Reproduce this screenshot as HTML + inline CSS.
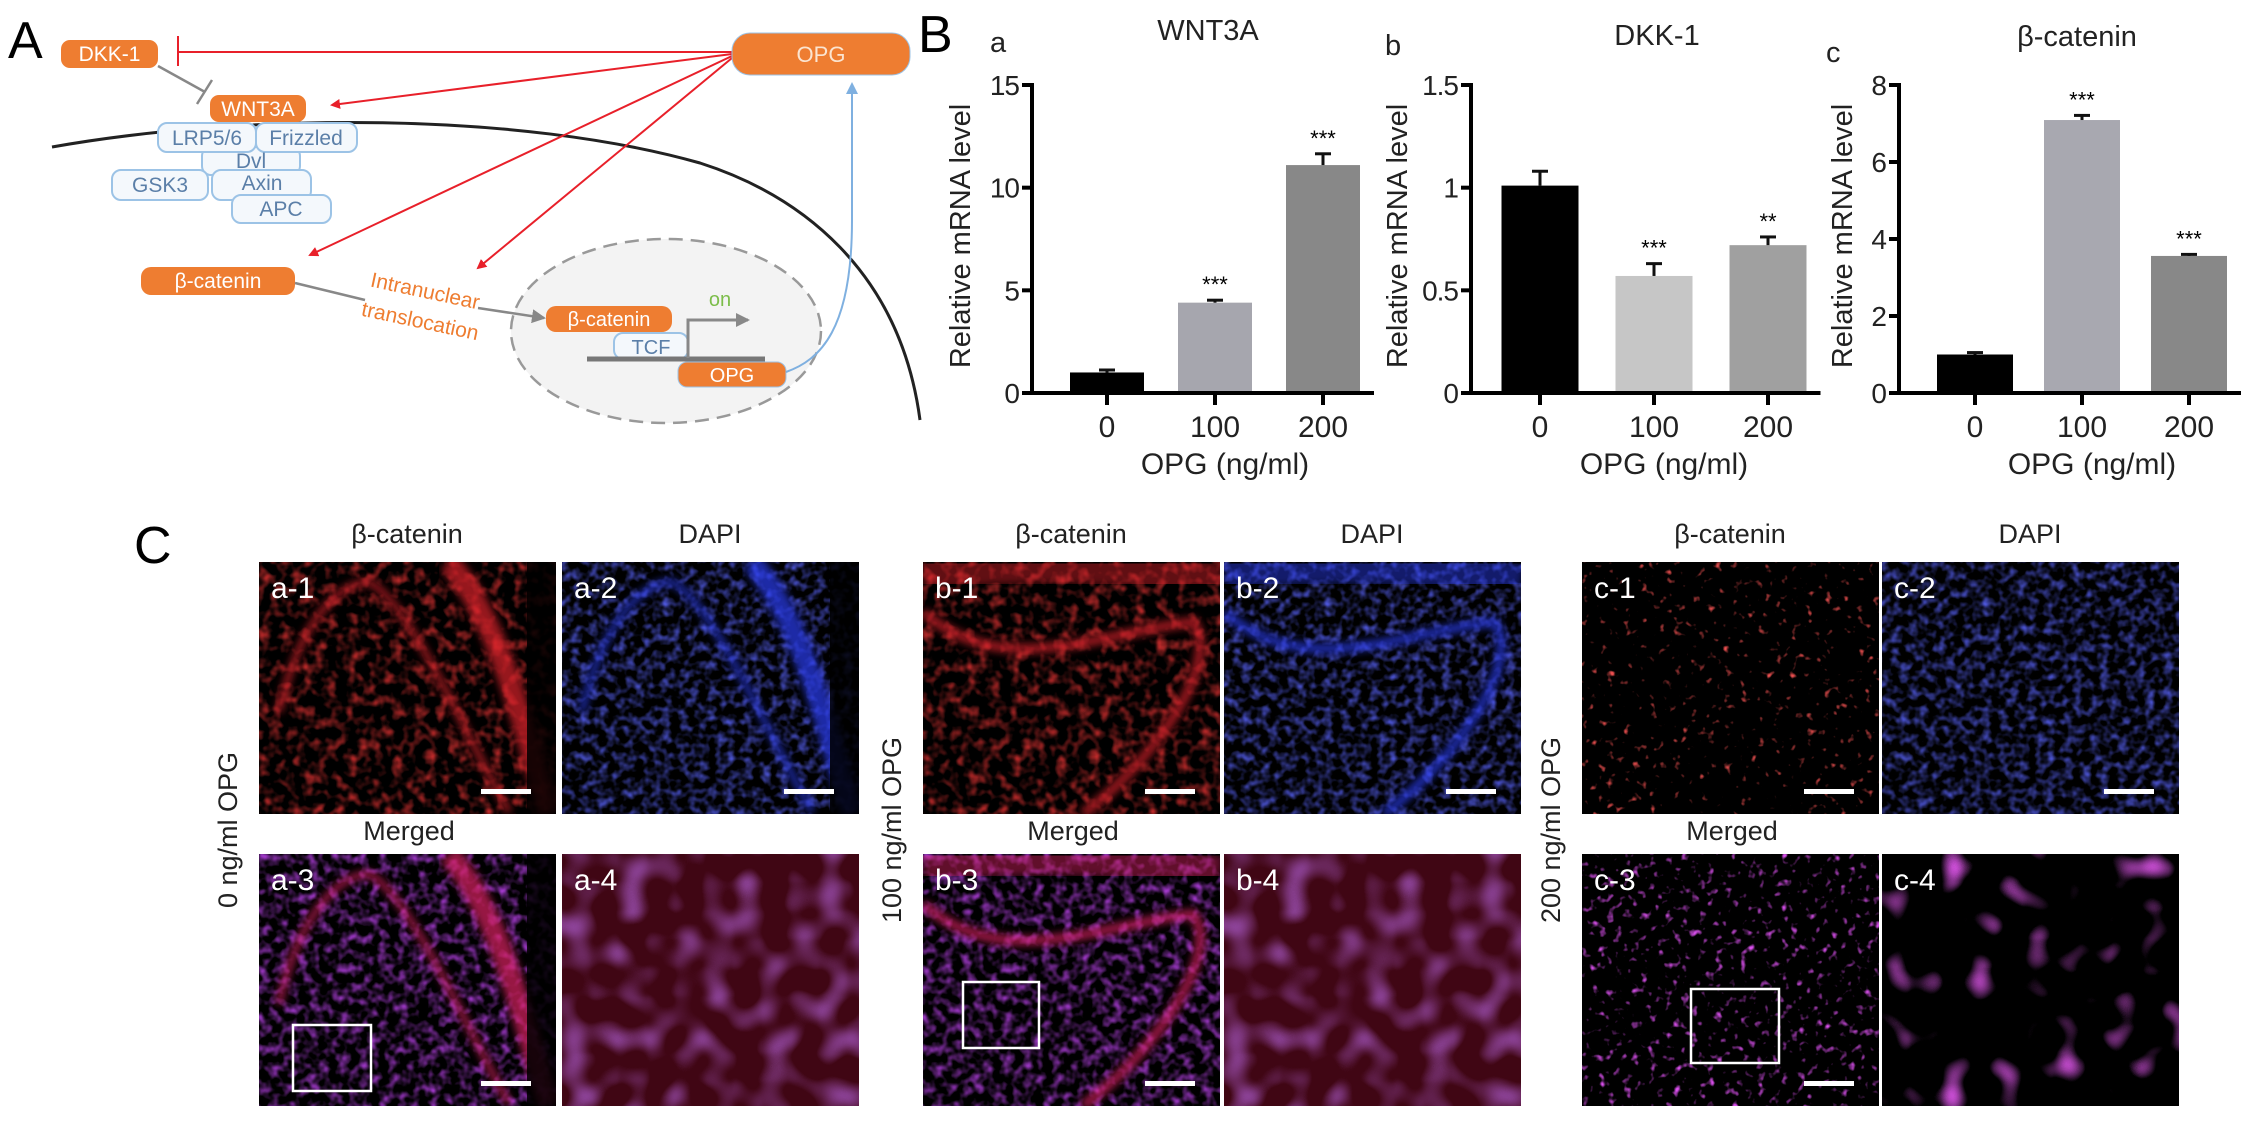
<!DOCTYPE html>
<html><head><meta charset="utf-8">
<style>
html,body{margin:0;padding:0;background:#fff;}
svg{display:block;font-family:"Liberation Sans",Arial,sans-serif;}
</style></head>
<body>
<svg id="fig" width="2268" height="1125" viewBox="0 0 2268 1125" xmlns="http://www.w3.org/2000/svg">
<defs>
  <marker id="redHead" markerWidth="10" markerHeight="10" refX="8" refY="5" orient="auto" markerUnits="userSpaceOnUse"><path d="M0,0 L10,5 L0,10 z" fill="#e8202a"/></marker>
  <marker id="greyHead" markerWidth="14" markerHeight="14" refX="12" refY="7" orient="auto" markerUnits="userSpaceOnUse"><path d="M0,0 L14,7 L0,14 z" fill="#888"/></marker>
  <marker id="blueHead" markerWidth="12" markerHeight="12" refX="10" refY="6" orient="auto" markerUnits="userSpaceOnUse"><path d="M0,0 L12,6 L0,12 z" fill="#7fb0e0"/></marker>
  <filter id="nRed1" x="0" y="0" width="100%" height="100%"><feTurbulence type="fractalNoise" baseFrequency="0.09" numOctaves="2" seed="3"/><feColorMatrix type="matrix" values="0 0 0 0 0.7  0 0 0 0 0.03  0 0 0 0 0.03  2.0 0 0 0 -0.9"/></filter>
  <filter id="nRedSparse" x="0" y="0" width="100%" height="100%"><feTurbulence type="fractalNoise" baseFrequency="0.12" numOctaves="2" seed="7"/><feColorMatrix type="matrix" values="0 0 0 0 0.85  0 0 0 0 0.08  0 0 0 0 0.08  4.5 0 0 0 -2.9"/></filter>
  <filter id="nBlue" x="0" y="0" width="100%" height="100%"><feTurbulence type="fractalNoise" baseFrequency="0.11" numOctaves="2" seed="11"/><feColorMatrix type="matrix" values="0 0 0 0 0.08  0 0 0 0 0.1  0 0 0 0 0.75  2.0 0 0 0 -0.85"/></filter>
  <filter id="nPurple" x="0" y="0" width="100%" height="100%"><feTurbulence type="fractalNoise" baseFrequency="0.1" numOctaves="2" seed="5"/><feColorMatrix type="matrix" values="0 0 0 0 0.45  0 0 0 0 0.05  0 0 0 0 0.75  2.0 0 0 0 -0.85"/></filter>
  <filter id="nMagSparse" x="0" y="0" width="100%" height="100%"><feTurbulence type="fractalNoise" baseFrequency="0.12" numOctaves="2" seed="9"/><feColorMatrix type="matrix" values="0 0 0 0 0.7  0 0 0 0 0.08  0 0 0 0 0.85  4.0 0 0 0 -2.4"/></filter>
  <filter id="nBlobPurple" x="0" y="0" width="100%" height="100%"><feTurbulence type="fractalNoise" baseFrequency="0.035" numOctaves="1" seed="13"/><feColorMatrix type="matrix" values="0 0 0 0 0.45  0 0 0 0 0.12  0 0 0 0 0.7  2.2 0 0 0 -1.0"/></filter>
  <filter id="nBlobMag" x="0" y="0" width="100%" height="100%"><feTurbulence type="fractalNoise" baseFrequency="0.035" numOctaves="1" seed="17"/><feColorMatrix type="matrix" values="0 0 0 0 0.8  0 0 0 0 0.1  0 0 0 0 0.9  3.5 0 0 0 -2.0"/></filter>
  <filter id="blur4"><feGaussianBlur stdDeviation="4"/></filter>
</defs>

<!-- ================= PANEL A ================= -->
<g>
  <text x="8" y="58" font-size="52">A</text>
  <path d="M52,147 C250,112 520,112 700,163 C800,195 900,270 920,420" fill="none" stroke="#222" stroke-width="3"/>
  <ellipse cx="666" cy="331" rx="155" ry="92" fill="#f3f3f3" stroke="#999" stroke-width="2.5" stroke-dasharray="14 8"/>
  <line x1="178" y1="52" x2="732" y2="52" stroke="#e8202a" stroke-width="2"/>
  <line x1="178" y1="36" x2="178" y2="66" stroke="#e8202a" stroke-width="2"/>
  <line x1="732" y1="54" x2="332" y2="105" stroke="#e8202a" stroke-width="2" marker-end="url(#redHead)"/>
  <line x1="732" y1="56" x2="310" y2="255" stroke="#e8202a" stroke-width="2" marker-end="url(#redHead)"/>
  <line x1="732" y1="58" x2="478" y2="268" stroke="#e8202a" stroke-width="2" marker-end="url(#redHead)"/>
  <line x1="158" y1="66" x2="205" y2="92" stroke="#888" stroke-width="2.5"/>
  <line x1="197" y1="104" x2="212" y2="80" stroke="#888" stroke-width="2.5"/>
  <g><rect x="61" y="40" width="97" height="28" rx="9" fill="#ee7d31"/><text x="109.5" y="61" font-size="21" fill="#fff" text-anchor="middle">DKK-1</text></g>
  <g><rect x="210" y="95" width="96" height="27" rx="9" fill="#ee7d31"/><text x="258" y="116" font-size="21" fill="#fff" text-anchor="middle">WNT3A</text></g>
  <g><rect x="732" y="33" width="178" height="42" rx="18" fill="#ee7d31" stroke="#9cc3e6" stroke-width="1"/><text x="821" y="62" font-size="22" fill="#fbe4d0" text-anchor="middle">OPG</text></g>
  <g fill="#f4f8fc" stroke="#9cc3e6" stroke-width="2" font-size="20">
    <rect x="202" y="147" width="98" height="28" rx="9"/>
    <rect x="112" y="170" width="96" height="30" rx="9"/>
    <rect x="212" y="170" width="99" height="30" rx="9"/>
    <rect x="232" y="195" width="99" height="28" rx="9"/>
    <rect x="158" y="123" width="98" height="29" rx="9"/>
    <rect x="256" y="123" width="101" height="29" rx="9"/>
  </g>
  <g fill="#5b7fa8" font-size="21" text-anchor="middle">
    <text x="207" y="145">LRP5/6</text>
    <text x="306" y="145">Frizzled</text>
    <text x="251" y="168">Dvl</text>
    <text x="160" y="192">GSK3</text>
    <text x="262" y="190">Axin</text>
    <text x="281" y="216">APC</text>
  </g>
  <g><rect x="141" y="267" width="154" height="28" rx="10" fill="#ee7d31"/><text x="218" y="288" font-size="21" fill="#fff" text-anchor="middle">β-catenin</text></g>
  <line x1="295" y1="283" x2="365" y2="300" stroke="#888" stroke-width="2.5"/>
  <line x1="478" y1="308" x2="544" y2="318" stroke="#888" stroke-width="2.5" marker-end="url(#greyHead)"/>
  <text x="425" y="298" font-size="21" fill="#ee7d31" text-anchor="middle" transform="rotate(12 425 292)">Intranuclear</text>
  <text x="420" y="328" font-size="21" fill="#ee7d31" text-anchor="middle" transform="rotate(12 420 322)">translocation</text>
  <rect x="614" y="333" width="74" height="26" rx="9" fill="#f4f8fc" stroke="#9cc3e6" stroke-width="2"/>
  <text x="651" y="354" font-size="20" fill="#5b7fa8" text-anchor="middle">TCF</text>
  <g><rect x="546" y="306" width="126" height="26" rx="10" fill="#ee7d31"/><text x="609" y="326" font-size="20" fill="#fff" text-anchor="middle">β-catenin</text></g>
  <line x1="587" y1="359" x2="765" y2="359" stroke="#777" stroke-width="5"/>
  <path d="M688,358 L688,320 L748,320" fill="none" stroke="#888" stroke-width="3" marker-end="url(#greyHead)"/>
  <text x="720" y="306" font-size="20" fill="#7cbd4a" text-anchor="middle">on</text>
  <g><rect x="678" y="362" width="108" height="25" rx="9" fill="#ee7d31" stroke="#9cc3e6" stroke-width="1"/><text x="732" y="382" font-size="20" fill="#fff" text-anchor="middle">OPG</text></g>
  <path d="M786,372 C820,360 852,330 852,220 L852,84" fill="none" stroke="#7fb0e0" stroke-width="2" marker-end="url(#blueHead)"/>
</g>

<!-- ================= PANEL B ================= -->
<g id="panelB">
  <text x="918" y="52" font-size="52">B</text>
</g>

<!-- ================= PANEL C ================= -->
<g id="panelC">
  <text x="134" y="563" font-size="52">C</text>
</g>

<script>
// ---------- chart data ----------
const categories = ["0", "100", "200"];
const wntValues = [1.0, 4.4, 11.1];
const wntErrors = [0.12, 0.12, 0.55];
const wntStars = ["", "***", "***"];
const wntTicks = [0, 5, 10, 15];
const dkkValues = [1.01, 0.57, 0.72];
const dkkErrors = [0.07, 0.06, 0.04];
const dkkStars = ["", "***", "**"];
const dkkTicks = [0, 0.5, 1, 1.5];
const ctnValues = [1.0, 7.09, 3.56];
const ctnErrors = [0.05, 0.12, 0.04];
const ctnStars = ["", "***", "***"];
const ctnTicks = [0, 2, 4, 6, 8];

const NS = "http://www.w3.org/2000/svg";
const panelB = document.getElementById("panelB");
function mk(tag, attrs, parent, text) {
  const e = document.createElementNS(NS, tag);
  for (const k in attrs) e.setAttribute(k, attrs[k]);
  if (text !== undefined) e.textContent = text;
  (parent || panelB).appendChild(e);
  return e;
}

function drawChart(cfg, values, errors, stars, ticks) {
  const g = mk("g", {});
  
  
  const maxV = ticks[ticks.length - 1];
  const y = v => cfg.y0 - (v / maxV) * (cfg.y0 - cfg.yTop);
  const x = i => cfg.c0 + i * cfg.step;
  values.forEach((v, i) => {
    const r = mk("rect", {x: x(i) - cfg.bw / 2, y: y(v), width: cfg.bw, height: cfg.y0 - y(v), fill: cfg.colors[i]}, g);
    
    
    const eTop = y(v + errors[i]);
    mk("line", {x1: x(i), x2: x(i), y1: y(v), y2: eTop, stroke: "#111", "stroke-width": 3}, g);
    mk("line", {x1: x(i) - 8, x2: x(i) + 8, y1: eTop, y2: eTop, stroke: "#111", "stroke-width": 3}, g);
    if (stars[i]) {
      const s = mk("text", {x: x(i), y: eTop - 8, "font-size": 22, "text-anchor": "middle"}, g, stars[i]);
      
      
    }
  });
  const ya = mk("line", {x1: cfg.ax, x2: cfg.ax, y1: cfg.yTop - 2, y2: cfg.y0 + 2, stroke: "#000", "stroke-width": 4}, g);
  
  
  ticks.forEach(t => {
    mk("line", {x1: cfg.ax - 10, x2: cfg.ax, y1: y(t), y2: y(t), stroke: "#000", "stroke-width": 4}, g);
    const tl = mk("text", {x: cfg.ax - 13, y: y(t) + 10, "font-size": 28, "text-anchor": "end", fill: "#222", "letter-spacing": "-1"}, g, String(t));
    
    
  });
  const xa = mk("line", {x1: cfg.ax - 6, x2: x(values.length - 1) + cfg.bw / 2 + 14, y1: cfg.y0, y2: cfg.y0, stroke: "#000", "stroke-width": 4}, g);
  
  
  categories.forEach((c, i) => {
    mk("line", {x1: x(i), x2: x(i), y1: cfg.y0, y2: cfg.y0 + 12, stroke: "#000", "stroke-width": 4}, g);
    const xl = mk("text", {x: x(i), y: cfg.y0 + 44, "font-size": 30, "text-anchor": "middle", fill: "#222"}, g, c);
    
    
  });
  const xt = mk("text", {x: x(1) + 10, y: cfg.y0 + 81, "font-size": 30, "text-anchor": "middle", fill: "#222"}, g, "OPG (ng/ml)");
  
  
  const yt = mk("text", {x: 0, y: 0, "font-size": 29, "text-anchor": "middle", fill: "#222", transform: "translate(" + cfg.ylx + ",236) rotate(-90)"}, g, "Relative mRNA level");
  
  
  const tt = mk("text", {x: cfg.tx, y: cfg.ty, "font-size": 29, "text-anchor": "middle", fill: "#222"}, g, cfg.title);
  
  
  const lt = mk("text", {x: cfg.lx, y: cfg.ly, "font-size": 29, fill: "#222"}, g, cfg.letter);
  
  
}

drawChart({name: "wnt3a-chart", ax: 1032, y0: 393, yTop: 85, c0: 1107, step: 108, bw: 74,
  colors: ["#000", "#a6a6ae", "#888888"], ylx: 970, tx: 1208, ty: 40, title: "WNT3A", lx: 990, ly: 52, letter: "a"},
  wntValues, wntErrors, wntStars, wntTicks);
drawChart({name: "dkk1-chart", ax: 1471, y0: 393, yTop: 85, c0: 1540, step: 114, bw: 77,
  colors: ["#000", "#c6c6c6", "#a0a0a0"], ylx: 1407, tx: 1657, ty: 45, title: "DKK-1", lx: 1385, ly: 55, letter: "b"},
  dkkValues, dkkErrors, dkkStars, dkkTicks);
drawChart({name: "bcatenin-chart", ax: 1899, y0: 393, yTop: 85, c0: 1975, step: 107, bw: 76,
  colors: ["#000", "#a8a8b0", "#888888"], ylx: 1852, tx: 2077, ty: 46, title: "β-catenin", lx: 1826, ly: 62, letter: "c"},
  ctnValues, ctnErrors, ctnStars, ctnTicks);

// ---------- Panel C images ----------
const panelC = document.getElementById("panelC");
function mkc(tag, attrs, parent, text) { return mk(tag, attrs, parent || panelC, text); }
const cols = [[259, 562], [923, 1224], [1582, 1882]];
const rowsY = [562, 854];
const W = 297, H = 252;
const groups = ["a", "b", "c"];
const rowLabels = ["0 ng/ml OPG", "100 ng/ml OPG", "200 ng/ml OPG"];
const styles = [
  ["nRed1", "nBlue", "nPurple", "nBlobPurple"],
  ["nRed1", "nBlue", "nPurple", "nBlobPurple"],
  ["nRedSparse", "nBlue", "nMagSparse", "nBlobMag"]
];
const bandColors = ["#d8202a", "#2a3cee", "#d82060", null];
groups.forEach((gname, gi) => {
  const x1 = cols[gi][0], x2 = cols[gi][1];
  const h1 = mkc("text", {x: x1 + 148, y: 543, "font-size": 27, "text-anchor": "middle", fill: "#222"}, null, "β-catenin");
  
  
  const h2 = mkc("text", {x: x2 + 148, y: 543, "font-size": 27, "text-anchor": "middle", fill: "#222"}, null, "DAPI");
  
  
  const m = mkc("text", {x: x1 + 150, y: 840, "font-size": 27, "text-anchor": "middle", fill: "#222"}, null, "Merged");
  
  
  const rl = mkc("text", {x: 0, y: 0, "font-size": 27, "text-anchor": "middle", fill: "#222", transform: "translate(" + (x1 - 22) + ",830) rotate(-90)"}, null, rowLabels[gi]);
  
  
  const pos = [[x1, rowsY[0]], [x2, rowsY[0]], [x1, rowsY[1]], [x2, rowsY[1]]];
  pos.forEach((p, k) => {
    const s = mkc("svg", {x: p[0], y: p[1], width: W, height: H});
    
    
    mkc("rect", {x: 0, y: 0, width: W, height: H, fill: "#000"}, s);
    if (k === 3 && gi < 2) {
      mkc("rect", {x: 0, y: 0, width: W, height: H, fill: "#6a0a22", opacity: 0.6}, s);
    }
    mkc("rect", {x: 0, y: 0, width: W, height: H, filter: "url(#" + styles[gi][k] + ")"}, s);
    if (gi < 2 && k < 3) {
      const col = bandColors[k];
      if (gi === 0) {
        mkc("path", {d: "M20,150 C40,60 80,20 110,20 C150,40 200,160 250,250", fill: "none", stroke: col, "stroke-width": 7, opacity: 0.7, filter: "url(#blur4)"}, s);
        mkc("path", {d: "M190,0 C240,60 260,150 290,252", fill: "none", stroke: col, "stroke-width": 22, opacity: 0.7, filter: "url(#blur4)"}, s);
        mkc("rect", {x: 268, y: 0, width: 40, height: H, fill: "#000", opacity: 0.85}, s);
      } else {
        mkc("path", {d: "M0,50 C80,120 180,70 270,60 C300,100 230,200 160,252", fill: "none", stroke: col, "stroke-width": 10, opacity: 0.7, filter: "url(#blur4)"}, s);
        mkc("path", {d: "M0,10 C100,0 200,0 297,20", fill: "none", stroke: col, "stroke-width": 36, opacity: 0.45, filter: "url(#blur4)"}, s);
      }
    }
    const lb = mkc("text", {x: 12, y: 36, "font-size": 30, fill: "#fff"}, s, gname + "-" + (k + 1));
    
    
    if (k !== 3) {
      const sb = mkc("rect", {x: W - 75, y: H - 25, width: 50, height: 5, fill: "#fff"}, s);
      
      
    }
  });
});
const zoomBoxes = [[293, 1025, 78, 66], [963, 982, 76, 66], [1691, 989, 88, 74]];
zoomBoxes.forEach(b => {
  const r = mkc("rect", {x: b[0], y: b[1], width: b[2], height: b[3], fill: "none", stroke: "#fff", "stroke-width": 2.5});
  
  
});
</script>
</svg>
</body></html>
